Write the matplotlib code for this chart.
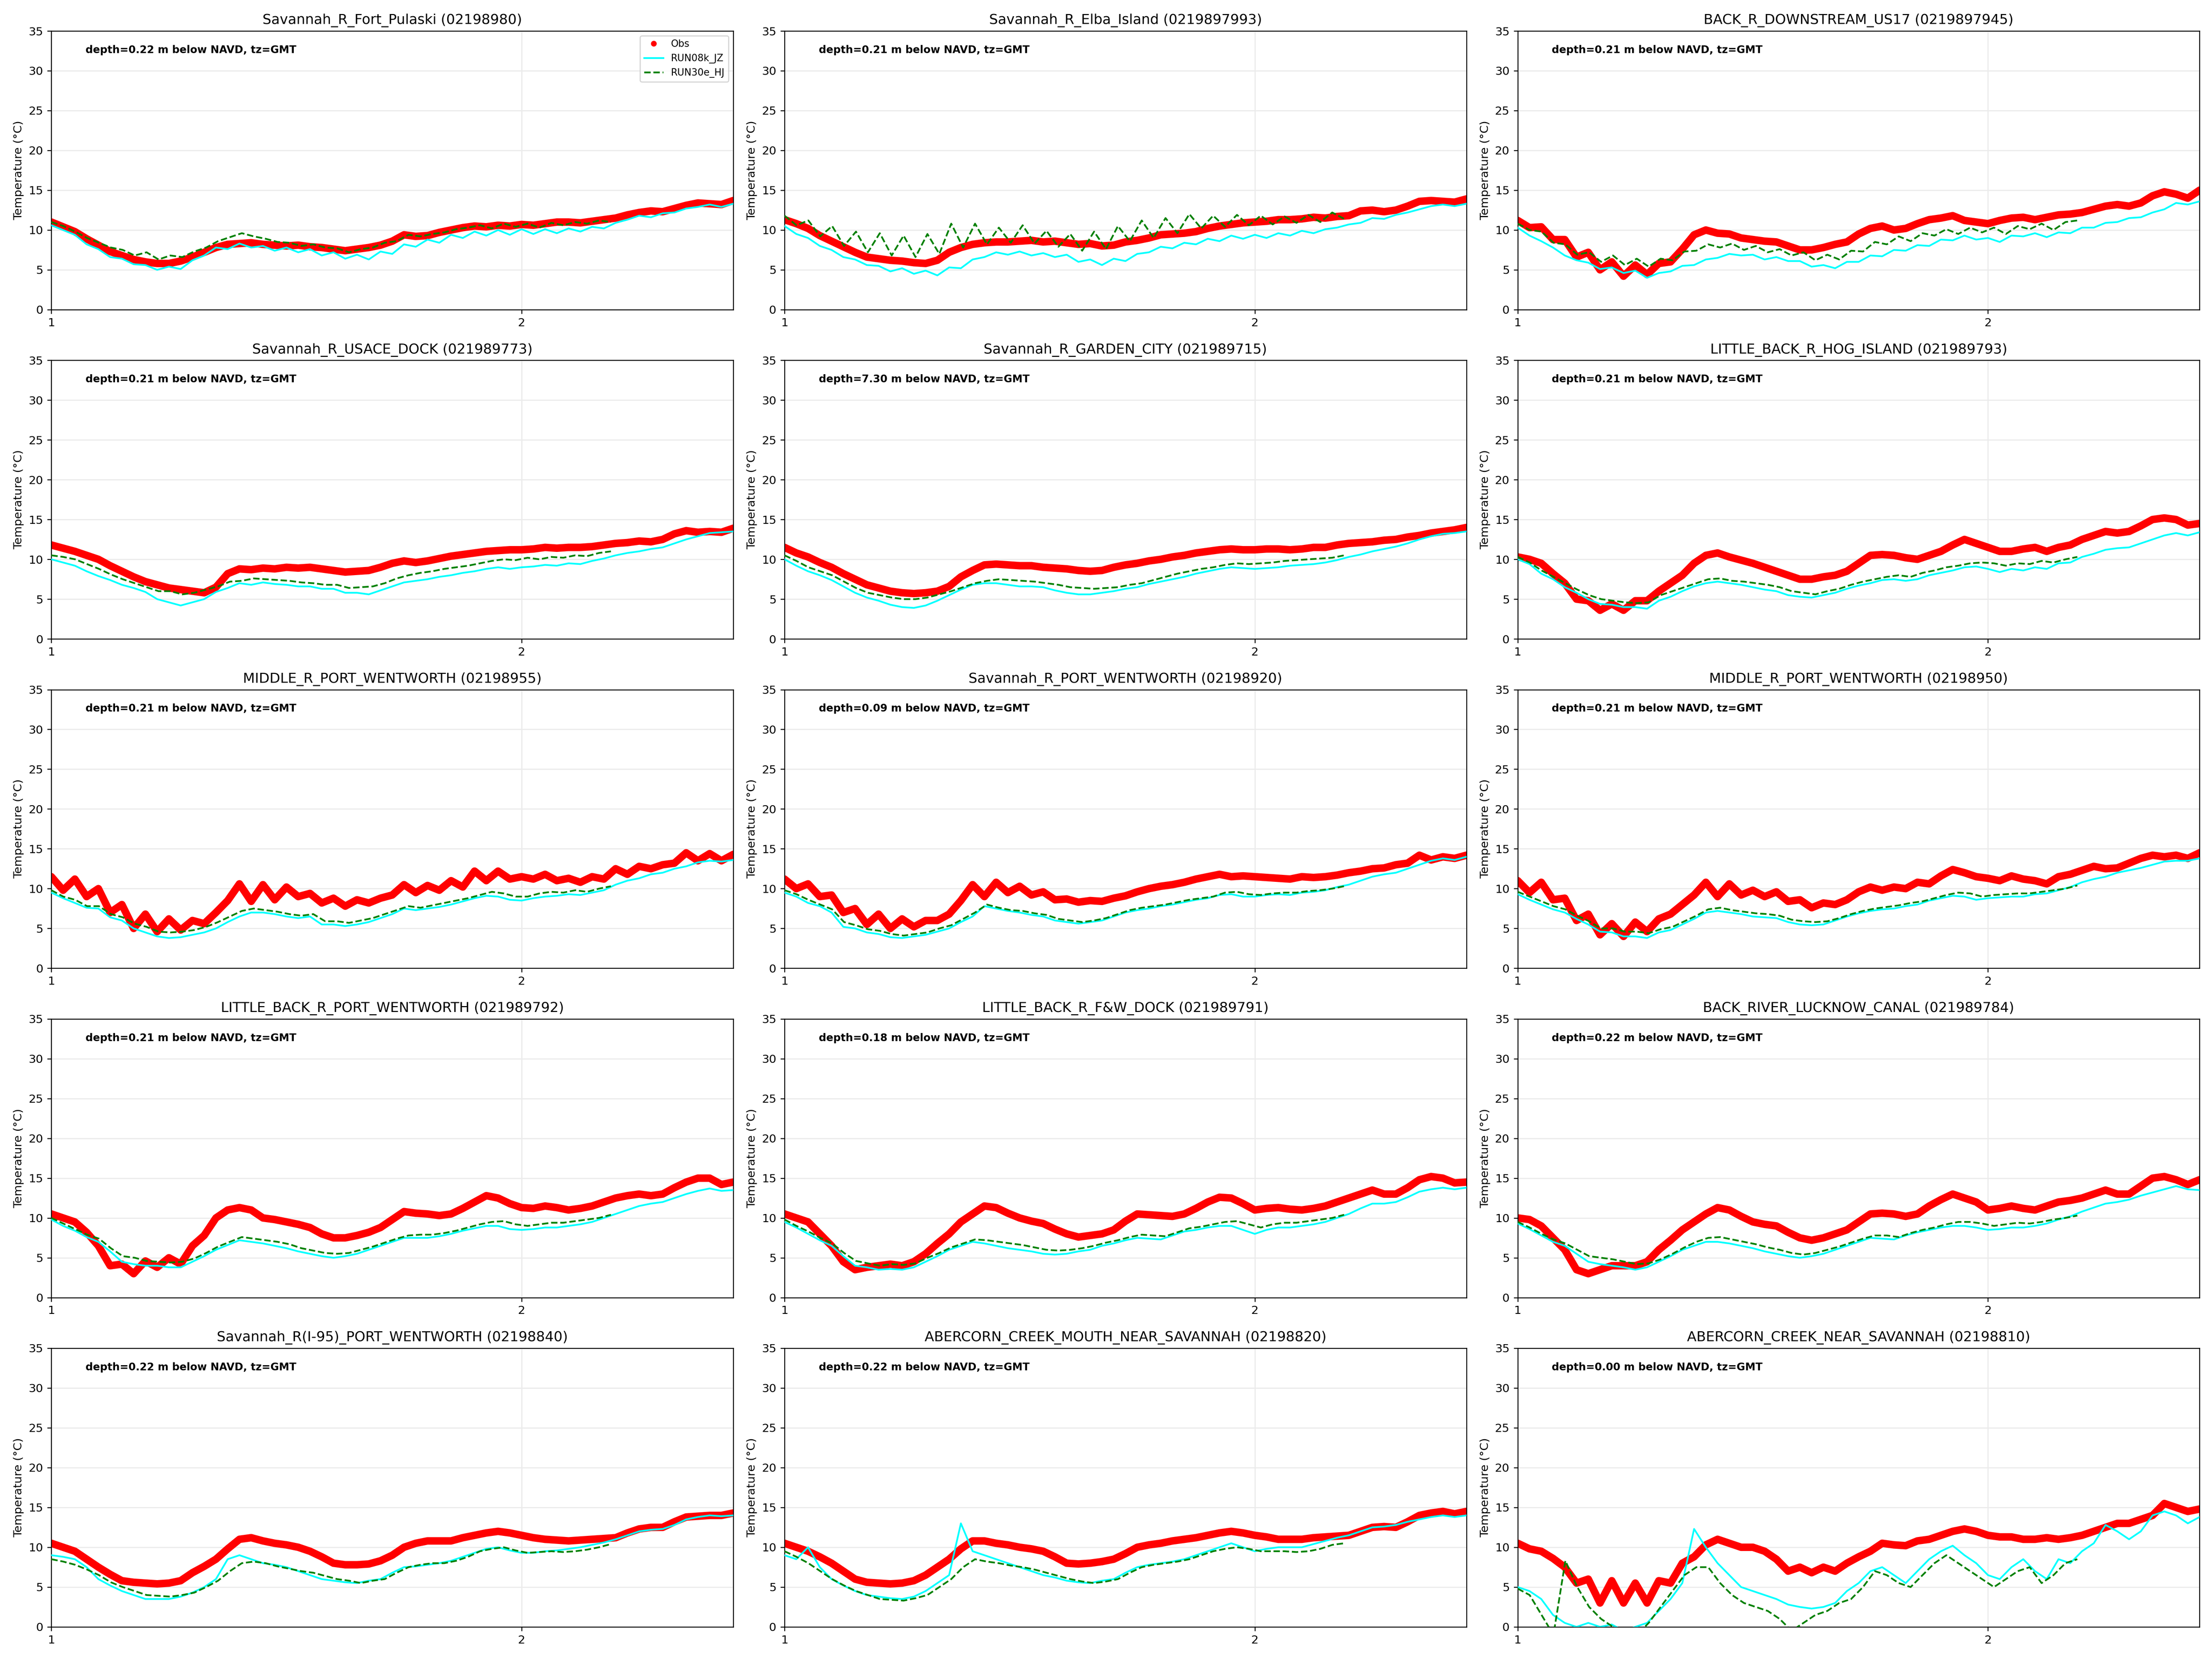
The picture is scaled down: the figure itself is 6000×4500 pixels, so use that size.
import numpy as np
import matplotlib
matplotlib.use("Agg")
import matplotlib.pyplot as plt

# station names, ids and sensor depth (m below NAVD)
stations = ["Savannah_R_Fort_Pulaski", "Savannah_R_Elba_Island", "BACK_R_DOWNSTREAM_US17",
            "Savannah_R_USACE_DOCK", "Savannah_R_GARDEN_CITY", "LITTLE_BACK_R_HOG_ISLAND",
            "MIDDLE_R_PORT_WENTWORTH", "Savannah_R_PORT_WENTWORTH", "MIDDLE_R_PORT_WENTWORTH",
            "LITTLE_BACK_R_PORT_WENTWORTH", "LITTLE_BACK_R_F&W_DOCK", "BACK_RIVER_LUCKNOW_CANAL",
            "Savannah_R(I-95)_PORT_WENTWORTH", "ABERCORN_CREEK_MOUTH_NEAR_SAVANNAH", "ABERCORN_CREEK_NEAR_SAVANNAH"]
station_ids = ["02198980", "0219897993", "0219897945",
               "021989773", "021989715", "021989793",
               "02198955", "02198920", "02198950",
               "021989792", "021989791", "021989784",
               "02198840", "02198820", "02198810"]
depths = [0.22, 0.21, 0.21, 0.21, 7.30, 0.21, 0.21, 0.09, 0.21, 0.21, 0.18, 0.22, 0.22, 0.22, 0.00]

# time axis runs 1 -> 2.45, obs and RUN08k to the end, RUN30e stops near 2.19
t_start, t_end, t_end_run30 = 1.0, 2.45, 2.19

# ---- 01 Fort Pulaski
obs_01 = [11.0, 10.4, 9.8, 8.9, 8.1, 7.3, 6.8, 6.3, 6.0, 5.8, 5.8, 6.1, 6.6, 7.2, 7.8, 8.2,
          8.3, 8.4, 8.2, 8.1, 8.0, 8.1, 7.9, 7.8, 7.6, 7.4, 7.6, 7.8, 8.1, 8.6, 9.4, 9.2,
          9.3, 9.7, 10.0, 10.3, 10.5, 10.4, 10.6, 10.5, 10.7, 10.6, 10.8, 11.0, 11.0, 10.9, 11.1, 11.3,
          11.5, 11.9, 12.2, 12.4, 12.3, 12.7, 13.1, 13.4, 13.3, 13.2, 13.7]
run08_01 = [10.6, 10.0, 9.4, 8.2, 7.6, 6.6, 6.4, 5.7, 5.6, 5.0, 5.4, 5.1, 6.2, 6.8, 7.8, 7.6,
            8.3, 7.8, 8.0, 7.4, 7.8, 7.2, 7.6, 6.8, 7.2, 6.4, 6.9, 6.3, 7.3, 7.0, 8.2, 7.9,
            8.8, 8.4, 9.4, 9.0, 9.8, 9.3, 10.0, 9.4, 10.1, 9.5, 10.1, 9.6, 10.2, 9.8, 10.4, 10.2,
            10.9, 11.3, 11.8, 11.6, 12.1, 12.2, 12.7, 12.9, 13.2, 12.9, 13.3]
run30_01 = [11.0, 10.5, 9.8, 9.0, 8.4, 7.8, 7.5, 6.8, 7.2, 6.3, 6.8, 6.6, 7.3, 7.8, 8.6, 9.1,
            9.6, 9.2, 8.9, 8.5, 8.4, 8.0, 8.2, 7.8, 7.7, 7.2, 7.6, 7.8, 8.4, 8.6, 9.4, 9.2,
            9.5, 9.7, 10.1, 10.3, 10.6, 10.2, 10.8, 10.4, 10.8, 10.3, 10.9, 10.6, 11.0, 10.8, 11.2, 11.0]

# ---- 02 Elba Island
obs_02 = [11.3, 10.8, 10.2, 9.3, 8.6, 7.9, 7.2, 6.6, 6.4, 6.2, 6.1, 5.9, 5.8, 6.2, 7.2, 7.8,
          8.2, 8.4, 8.5, 8.5, 8.6, 8.7, 8.5, 8.6, 8.4, 8.2, 8.3, 8.0, 8.1, 8.5, 8.7, 9.0,
          9.4, 9.5, 9.6, 9.8, 10.2, 10.5, 10.7, 10.9, 11.0, 11.1, 11.3, 11.3, 11.4, 11.6, 11.5, 11.7,
          11.8, 12.4, 12.5, 12.3, 12.5, 13.0, 13.6, 13.7, 13.6, 13.5, 13.9]
run08_02 = [10.5, 9.5, 9.0, 8.0, 7.5, 6.6, 6.3, 5.6, 5.5, 4.8, 5.2, 4.5, 4.9, 4.3, 5.3, 5.2,
            6.3, 6.6, 7.2, 6.9, 7.3, 6.8, 7.1, 6.6, 6.9, 6.0, 6.3, 5.6, 6.4, 6.1, 7.0, 7.2,
            7.9, 7.7, 8.4, 8.2, 8.9, 8.6, 9.3, 8.9, 9.4, 9.0, 9.6, 9.3, 9.9, 9.6, 10.1, 10.3,
            10.7, 10.9, 11.5, 11.4, 11.9, 12.2, 12.6, 13.0, 13.2, 13.0, 13.3]
run30_02 = [11.8, 10.6, 11.2, 9.2, 10.5, 8.0, 9.8, 7.2, 9.6, 6.8, 9.3, 6.6, 9.5, 7.0, 10.8, 7.8,
            10.8, 8.2, 10.3, 8.4, 10.6, 8.3, 9.9, 7.9, 9.5, 7.4, 9.8, 7.6, 10.5, 8.6, 11.2, 9.0,
            11.5, 9.6, 12.0, 10.2, 11.8, 10.4, 11.9, 10.6, 11.8, 10.7, 11.7, 10.9, 11.9, 11.0, 12.2, 11.4]

# ---- 03 Back R downstream US17
obs_03 = [11.2, 10.3, 10.4, 8.8, 8.8, 6.6, 7.2, 5.0, 6.0, 4.2, 5.6, 4.4, 5.8, 6.0, 7.6, 9.4,
          10.0, 9.6, 9.5, 9.0, 8.8, 8.6, 8.5, 8.0, 7.5, 7.5, 7.8, 8.2, 8.5, 9.5, 10.2, 10.5,
          10.0, 10.2, 10.8, 11.3, 11.5, 11.8, 11.2, 11.0, 10.8, 11.2, 11.5, 11.6, 11.3, 11.6, 11.9, 12.0,
          12.2, 12.6, 13.0, 13.2, 13.0, 13.4, 14.3, 14.8, 14.5, 14.0, 15.0]
run08_03 = [10.3, 9.3, 8.6, 7.8, 6.8, 6.2, 5.9, 5.1, 5.3, 4.6, 4.9, 4.0, 4.6, 4.8, 5.5, 5.6,
            6.3, 6.5, 7.0, 6.8, 6.9, 6.3, 6.6, 6.1, 6.1, 5.4, 5.6, 5.2, 6.0, 6.0, 6.8, 6.7,
            7.5, 7.4, 8.1, 8.0, 8.8, 8.7, 9.3, 8.8, 9.0, 8.5, 9.3, 9.2, 9.6, 9.1, 9.7, 9.6,
            10.3, 10.3, 10.9, 11.0, 11.5, 11.6, 12.2, 12.6, 13.4, 13.2, 13.6]
run30_03 = [10.8, 10.0, 9.8, 8.4, 8.2, 6.9, 7.2, 6.0, 6.8, 5.6, 6.4, 5.4, 6.4, 6.2, 7.3, 7.4,
            8.2, 7.8, 8.3, 7.5, 8.0, 7.2, 7.6, 6.8, 7.2, 6.2, 6.9, 6.3, 7.4, 7.3, 8.5, 8.2,
            9.2, 8.6, 9.6, 9.3, 10.1, 9.5, 10.3, 9.7, 10.3, 9.5, 10.5, 10.1, 10.8, 10.0, 11.0, 11.2]

# ---- 04 USACE dock
obs_04 = [11.8, 11.4, 11.0, 10.5, 10.0, 9.2, 8.5, 7.8, 7.2, 6.8, 6.4, 6.2, 6.0, 5.8, 6.5, 8.2,
          8.8, 8.7, 8.9, 8.8, 9.0, 8.9, 9.0, 8.8, 8.6, 8.4, 8.5, 8.6, 9.0, 9.5, 9.8, 9.6,
          9.8, 10.1, 10.4, 10.6, 10.8, 11.0, 11.1, 11.2, 11.2, 11.3, 11.5, 11.4, 11.5, 11.5, 11.6, 11.8,
          12.0, 12.1, 12.3, 12.2, 12.5, 13.2, 13.6, 13.4, 13.5, 13.4, 13.9]
run08_04 = [10.0, 9.6, 9.2, 8.5, 7.9, 7.4, 6.8, 6.4, 5.9, 5.0, 4.6, 4.2, 4.6, 5.0, 5.9, 6.4,
            7.0, 6.8, 7.1, 6.9, 6.8, 6.6, 6.6, 6.3, 6.3, 5.8, 5.8, 5.6, 6.1, 6.6, 7.1, 7.3,
            7.5, 7.8, 8.0, 8.3, 8.5, 8.8, 9.0, 8.8, 9.0, 9.1, 9.3, 9.2, 9.5, 9.4, 9.8, 10.1,
            10.5, 10.8, 11.0, 11.3, 11.5, 12.0, 12.5, 12.9, 13.3, 13.4, 13.5]
run30_04 = [10.5, 10.3, 10.0, 9.4, 8.8, 8.1, 7.5, 7.0, 6.5, 6.0, 6.0, 5.6, 5.8, 6.2, 6.6, 7.2,
            7.3, 7.6, 7.5, 7.4, 7.3, 7.1, 7.0, 6.8, 6.8, 6.4, 6.5, 6.6, 7.0, 7.6, 8.0, 8.3,
            8.5, 8.8, 9.0, 9.2, 9.5, 9.8, 10.0, 9.9, 10.2, 10.0, 10.3, 10.2, 10.5, 10.4, 10.8, 11.0]

# ---- 05 Garden City
obs_05 = [11.5, 10.8, 10.3, 9.6, 9.0, 8.2, 7.5, 6.8, 6.4, 6.0, 5.8, 5.7, 5.8, 6.0, 6.6, 7.8,
          8.6, 9.3, 9.4, 9.3, 9.2, 9.2, 9.0, 8.9, 8.8, 8.6, 8.5, 8.6, 9.0, 9.3, 9.5, 9.8,
          10.0, 10.3, 10.5, 10.8, 11.0, 11.2, 11.3, 11.2, 11.2, 11.3, 11.3, 11.2, 11.3, 11.5, 11.5, 11.8,
          12.0, 12.1, 12.2, 12.4, 12.5, 12.8, 13.0, 13.3, 13.5, 13.7, 14.0]
run08_05 = [10.0, 9.2, 8.5, 8.0, 7.4, 6.6, 5.8, 5.2, 4.8, 4.3, 4.0, 3.9, 4.2, 4.8, 5.5, 6.2,
            6.8, 7.0, 7.0, 6.8, 6.6, 6.6, 6.5, 6.1, 5.8, 5.6, 5.6, 5.8, 6.0, 6.3, 6.5, 6.9,
            7.2, 7.5, 7.8, 8.2, 8.5, 8.8, 9.0, 8.9, 8.8, 8.9, 9.0, 9.2, 9.3, 9.4, 9.6, 9.9,
            10.3, 10.6, 11.0, 11.3, 11.6, 12.0, 12.5, 12.9, 13.2, 13.3, 13.5]
run30_05 = [10.5, 9.8, 9.0, 8.5, 8.0, 7.2, 6.4, 5.8, 5.5, 5.2, 5.0, 5.0, 5.2, 5.6, 6.0, 6.5,
            7.0, 7.3, 7.5, 7.4, 7.3, 7.2, 7.0, 6.8, 6.5, 6.4, 6.3, 6.4, 6.5, 6.8, 7.0, 7.4,
            7.8, 8.2, 8.5, 8.8, 9.0, 9.3, 9.5, 9.4, 9.5, 9.6, 9.8, 9.9, 10.0, 10.1, 10.2, 10.5]

# ---- 06 Little Back R Hog Island
obs_06 = [10.3, 10.0, 9.5, 8.2, 7.0, 5.0, 4.8, 3.6, 4.4, 3.6, 4.8, 4.8, 6.0, 7.0, 8.0, 9.5,
          10.5, 10.8, 10.3, 9.9, 9.5, 9.0, 8.5, 8.0, 7.5, 7.5, 7.8, 8.0, 8.5, 9.5, 10.5, 10.6,
          10.5, 10.2, 10.0, 10.5, 11.0, 11.8, 12.5, 12.0, 11.5, 11.0, 11.0, 11.3, 11.5, 11.0, 11.5, 11.8,
          12.5, 13.0, 13.5, 13.3, 13.5, 14.2, 15.0, 15.2, 15.0, 14.3, 14.5]
run08_06 = [10.0, 9.4, 8.2, 7.5, 6.5, 5.8, 5.0, 4.4, 4.3, 4.0, 4.0, 3.8, 4.8, 5.3, 6.0, 6.6,
            7.0, 7.2, 7.0, 6.8, 6.5, 6.2, 6.0, 5.5, 5.3, 5.2, 5.5, 5.8, 6.3, 6.7, 7.0, 7.4,
            7.5, 7.3, 7.5, 8.0, 8.3, 8.6, 9.0, 9.1, 8.8, 8.4, 8.8, 8.6, 9.0, 8.8, 9.5, 9.6,
            10.3, 10.7, 11.2, 11.4, 11.5, 12.0, 12.5, 13.0, 13.3, 13.0, 13.4]
run30_06 = [10.3, 9.6, 8.6, 7.8, 7.0, 6.2, 5.5, 5.0, 4.8, 4.6, 4.5, 4.6, 5.5, 6.0, 6.5, 7.0,
            7.5, 7.6, 7.3, 7.2, 7.0, 6.8, 6.5, 6.0, 5.8, 5.6, 6.0, 6.3, 6.8, 7.2, 7.5, 7.8,
            8.0, 7.8, 8.3, 8.6, 9.0, 9.2, 9.5, 9.6, 9.5, 9.2, 9.5, 9.4, 9.8, 9.6, 10.0, 10.3]

# ---- 07 Middle R Port Wentworth (02198955)
obs_07 = [11.5, 9.8, 11.2, 9.0, 10.0, 7.0, 8.0, 5.0, 6.8, 4.6, 6.2, 4.8, 6.0, 5.6, 7.0, 8.5,
          10.6, 8.4, 10.5, 8.6, 10.2, 9.0, 9.4, 8.2, 8.8, 7.8, 8.6, 8.2, 8.8, 9.2, 10.5, 9.5,
          10.4, 9.8, 11.0, 10.2, 12.2, 11.0, 12.2, 11.2, 11.5, 11.2, 11.8, 11.0, 11.3, 10.8, 11.5, 11.2,
          12.5, 11.8, 12.8, 12.5, 13.0, 13.2, 14.5, 13.5, 14.4, 13.5, 14.3]
run08_07 = [9.5, 8.8, 8.2, 7.6, 7.5, 6.4, 6.0, 5.0, 4.5, 4.0, 3.8, 3.9, 4.2, 4.5, 5.0, 5.8,
            6.5, 7.0, 7.0, 6.8, 6.5, 6.3, 6.5, 5.5, 5.5, 5.3, 5.5, 5.8, 6.3, 6.8, 7.5, 7.3,
            7.5, 7.7, 8.0, 8.4, 8.8, 9.1, 9.0, 8.6, 8.5, 8.8, 9.0, 9.1, 9.3, 9.2, 9.5, 9.8,
            10.5, 11.0, 11.3, 11.8, 12.0, 12.5, 12.8, 13.3, 13.5, 13.4, 13.6]
run30_07 = [9.8, 9.0, 8.6, 7.8, 7.8, 6.8, 6.4, 5.6, 5.2, 4.6, 4.5, 4.6, 4.8, 5.2, 5.8, 6.5,
            7.2, 7.5, 7.3, 7.1, 6.8, 6.6, 6.8, 5.9, 5.9, 5.7, 6.0, 6.3, 6.8, 7.3, 7.8, 7.6,
            7.9, 8.2, 8.5, 8.8, 9.2, 9.6, 9.4, 9.0, 9.0, 9.4, 9.6, 9.5, 9.8, 9.6, 10.0, 10.3]

# ---- 08 Savannah R Port Wentworth (02198920)
obs_08 = [11.2, 10.0, 10.6, 9.0, 9.2, 7.0, 7.5, 5.5, 6.8, 5.0, 6.2, 5.2, 6.0, 6.0, 6.8, 8.5,
          10.5, 9.0, 10.8, 9.5, 10.3, 9.2, 9.6, 8.6, 8.7, 8.3, 8.5, 8.4, 8.8, 9.1, 9.6, 10.0,
          10.3, 10.5, 10.8, 11.2, 11.5, 11.8, 11.5, 11.6, 11.5, 11.4, 11.3, 11.2, 11.5, 11.4, 11.5, 11.7,
          12.0, 12.2, 12.5, 12.6, 13.0, 13.2, 14.2, 13.6, 14.0, 13.8, 14.2]
run08_08 = [9.5, 9.0, 8.2, 7.8, 7.0, 5.2, 5.0, 4.5, 4.3, 3.9, 3.8, 4.0, 4.2, 4.6, 5.0, 5.8,
            6.5, 7.8, 7.5, 7.2, 7.0, 6.7, 6.5, 6.0, 5.8, 5.6, 5.8, 6.0, 6.5, 7.0, 7.3, 7.5,
            7.8, 8.0, 8.3, 8.6, 8.8, 9.2, 9.3, 9.0, 9.0, 9.2, 9.3, 9.2, 9.5, 9.6, 9.8, 10.2,
            10.5, 11.0, 11.5, 11.8, 12.0, 12.5, 13.0, 13.5, 13.8, 13.6, 14.0]
run30_08 = [9.8, 9.3, 8.6, 8.0, 7.4, 5.8, 5.4, 4.9, 4.7, 4.3, 4.1, 4.3, 4.5, 5.0, 5.4, 6.2,
            7.0, 8.0, 7.6, 7.3, 7.2, 6.9, 6.7, 6.2, 6.0, 5.8, 6.0, 6.3, 6.8, 7.3, 7.6, 7.8,
            8.0, 8.3, 8.6, 8.8, 9.0, 9.5, 9.6, 9.3, 9.2, 9.4, 9.5, 9.5, 9.7, 9.8, 10.0, 10.3]

# ---- 09 Middle R Port Wentworth (02198950)
obs_09 = [11.0, 9.5, 10.8, 8.6, 8.8, 6.0, 6.8, 4.2, 5.6, 4.0, 5.8, 4.6, 6.2, 6.8, 8.0, 9.2,
          10.8, 9.0, 10.6, 9.2, 9.8, 9.0, 9.6, 8.4, 8.6, 7.6, 8.2, 8.0, 8.6, 9.6, 10.2, 9.8,
          10.2, 10.0, 10.8, 10.6, 11.6, 12.4, 12.0, 11.5, 11.3, 11.0, 11.6, 11.2, 11.0, 10.6, 11.5, 11.8,
          12.3, 12.8, 12.5, 12.6, 13.2, 13.8, 14.2, 14.0, 14.2, 13.8, 14.5]
run08_09 = [9.3, 8.6, 8.0, 7.4, 7.0, 6.2, 5.5, 4.6, 4.5, 4.0, 4.0, 3.8, 4.5, 4.8, 5.5, 6.2,
            7.0, 7.2, 7.0, 6.8, 6.5, 6.4, 6.3, 5.8, 5.5, 5.4, 5.5, 6.0, 6.5, 6.9, 7.2, 7.4,
            7.5, 7.8, 8.0, 8.5, 8.8, 9.1, 9.0, 8.6, 8.8, 8.9, 9.0, 9.0, 9.3, 9.4, 9.8, 10.2,
            10.8, 11.2, 11.5, 12.0, 12.3, 12.6, 13.0, 13.4, 13.5, 13.5, 13.8]
run30_09 = [9.6, 9.0, 8.4, 7.8, 7.4, 6.6, 5.9, 5.0, 5.0, 4.6, 4.6, 4.4, 4.9, 5.2, 5.9, 6.6,
            7.4, 7.6, 7.3, 7.1, 6.9, 6.8, 6.6, 6.1, 5.9, 5.8, 5.9, 6.3, 6.8, 7.2, 7.5, 7.7,
            7.9, 8.2, 8.4, 8.8, 9.2, 9.5, 9.4, 9.0, 9.2, 9.3, 9.4, 9.4, 9.6, 9.8, 10.0, 10.4]

# ---- 10 Little Back R Port Wentworth
obs_10 = [10.5, 10.0, 9.5, 8.2, 6.5, 4.0, 4.2, 3.0, 4.6, 3.8, 5.0, 4.2, 6.5, 7.8, 10.0, 11.0,
          11.3, 11.0, 10.0, 9.8, 9.5, 9.2, 8.8, 8.0, 7.5, 7.5, 7.8, 8.2, 8.8, 9.8, 10.8, 10.6,
          10.5, 10.3, 10.5, 11.2, 12.0, 12.8, 12.5, 11.8, 11.3, 11.2, 11.5, 11.3, 11.0, 11.2, 11.5, 12.0,
          12.5, 12.8, 13.0, 12.8, 13.0, 13.8, 14.5, 15.0, 15.0, 14.2, 14.5]
run08_10 = [9.8, 9.0, 8.4, 7.6, 7.0, 5.8, 4.5, 4.2, 4.0, 4.0, 3.8, 3.8, 4.5, 5.2, 6.0, 6.6,
            7.2, 7.0, 6.8, 6.5, 6.2, 5.8, 5.5, 5.2, 5.0, 5.2, 5.5, 6.0, 6.5, 7.0, 7.5, 7.5,
            7.5, 7.7, 8.0, 8.4, 8.7, 9.0, 9.0, 8.6, 8.5, 8.6, 8.8, 8.8, 9.0, 9.2, 9.5, 10.0,
            10.5, 11.0, 11.5, 11.8, 12.0, 12.5, 13.0, 13.4, 13.7, 13.4, 13.5]
run30_10 = [10.0, 9.3, 8.6, 7.9, 7.4, 6.2, 5.2, 5.0, 4.6, 4.5, 4.4, 4.5, 4.9, 5.6, 6.4, 7.0,
            7.6, 7.4, 7.2, 7.0, 6.7, 6.2, 5.9, 5.6, 5.5, 5.6, 6.0, 6.4, 6.9, 7.4, 7.8, 7.9,
            7.9, 8.1, 8.4, 8.8, 9.2, 9.5, 9.6, 9.2, 9.0, 9.2, 9.4, 9.4, 9.6, 9.8, 10.0, 10.4]

# ---- 11 Little Back R F&W dock
obs_11 = [10.5, 10.0, 9.5, 8.0, 6.5, 4.5, 3.5, 3.8, 4.0, 4.2, 4.0, 4.5, 5.5, 6.8, 8.0, 9.5,
          10.5, 11.5, 11.3, 10.6, 10.0, 9.6, 9.3, 8.6, 8.0, 7.6, 7.8, 8.0, 8.5, 9.6, 10.5, 10.4,
          10.3, 10.2, 10.5, 11.2, 12.0, 12.6, 12.5, 11.8, 11.0, 11.2, 11.3, 11.1, 11.0, 11.2, 11.5, 12.0,
          12.5, 13.0, 13.5, 13.0, 13.0, 13.8, 14.8, 15.2, 15.0, 14.4, 14.5]
run08_11 = [9.5, 8.8, 8.0, 7.2, 6.5, 5.2, 4.0, 3.8, 3.5, 3.6, 3.5, 3.8, 4.5, 5.2, 6.0, 6.5,
            7.0, 6.8, 6.5, 6.2, 6.0, 5.8, 5.5, 5.4, 5.5, 5.8, 6.0, 6.5, 6.8, 7.2, 7.5, 7.4,
            7.3, 7.8, 8.3, 8.5, 8.8, 9.0, 9.0, 8.5, 8.0, 8.5, 8.8, 8.8, 9.0, 9.2, 9.5, 10.0,
            10.5, 11.2, 11.8, 11.8, 12.0, 12.6, 13.3, 13.6, 13.8, 13.6, 13.8]
run30_11 = [9.8, 9.0, 8.3, 7.5, 6.8, 5.6, 4.6, 4.3, 4.0, 4.2, 4.1, 4.3, 5.0, 5.6, 6.3, 6.8,
            7.3, 7.2, 7.0, 6.8, 6.6, 6.3, 6.0, 5.9, 6.0, 6.2, 6.5, 6.9, 7.2, 7.6, 7.9, 7.8,
            7.7, 8.2, 8.7, 8.9, 9.2, 9.5, 9.6, 9.2, 8.8, 9.2, 9.4, 9.4, 9.6, 9.8, 10.0, 10.4]

# ---- 12 Back River Lucknow canal
obs_12 = [10.0, 9.8, 9.0, 7.5, 6.0, 3.5, 3.0, 3.5, 4.0, 4.0, 4.0, 4.5, 6.0, 7.2, 8.5, 9.5,
          10.5, 11.3, 11.0, 10.2, 9.5, 9.2, 9.0, 8.2, 7.5, 7.2, 7.5, 8.0, 8.5, 9.5, 10.5, 10.6,
          10.5, 10.2, 10.5, 11.5, 12.3, 13.0, 12.5, 12.0, 11.0, 11.2, 11.5, 11.2, 11.0, 11.5, 12.0, 12.2,
          12.5, 13.0, 13.5, 13.0, 13.0, 14.0, 15.0, 15.2, 14.8, 14.2, 14.8]
run08_12 = [9.3, 8.6, 7.8, 7.0, 6.5, 5.5, 4.5, 4.2, 4.0, 3.8, 3.5, 3.8, 4.5, 5.2, 6.0, 6.5,
            7.0, 7.0, 6.8, 6.5, 6.2, 5.8, 5.5, 5.2, 5.0, 5.2, 5.5, 6.0, 6.5, 7.0, 7.5, 7.4,
            7.3, 7.8, 8.2, 8.5, 8.8, 9.0, 9.0, 8.8, 8.5, 8.6, 8.8, 8.8, 9.0, 9.3, 9.8, 10.2,
            10.8, 11.3, 11.8, 12.0, 12.3, 12.8, 13.2, 13.6, 14.0, 13.6, 13.5]
run30_12 = [9.5, 8.8, 8.0, 7.3, 6.8, 6.0, 5.2, 5.0, 4.8, 4.5, 4.2, 4.3, 4.8, 5.5, 6.3, 7.0,
            7.5, 7.6, 7.3, 7.0, 6.7, 6.3, 6.0, 5.6, 5.4, 5.6, 6.0, 6.4, 6.9, 7.4, 7.8, 7.8,
            7.6, 8.1, 8.5, 8.8, 9.2, 9.5, 9.5, 9.3, 9.0, 9.2, 9.4, 9.3, 9.5, 9.8, 10.0, 10.3]

# ---- 13 Savannah R (I-95) Port Wentworth
obs_13 = [10.5, 10.0, 9.5, 8.5, 7.5, 6.6, 5.8, 5.6, 5.5, 5.4, 5.5, 5.8, 6.8, 7.6, 8.5, 9.8,
          11.0, 11.2, 10.8, 10.5, 10.3, 10.0, 9.5, 8.8, 8.0, 7.8, 7.8, 7.9, 8.3, 9.0, 10.0, 10.5,
          10.8, 10.8, 10.8, 11.2, 11.5, 11.8, 12.0, 11.8, 11.5, 11.2, 11.0, 10.9, 10.8, 10.9, 11.0, 11.1,
          11.2, 11.8, 12.3, 12.5, 12.5, 13.2, 13.8, 13.9, 14.0, 14.0, 14.3]
run08_13 = [9.0, 8.8, 8.5, 7.5, 6.0, 5.2, 4.5, 4.0, 3.5, 3.5, 3.5, 3.8, 4.3, 5.0, 6.0, 8.5,
            9.0, 8.5, 8.0, 7.8, 7.5, 7.0, 6.5, 6.0, 5.8, 5.6, 5.5, 5.8, 6.0, 6.8, 7.5, 7.6,
            7.8, 8.0, 8.3, 8.8, 9.3, 9.8, 10.0, 9.6, 9.3, 9.3, 9.5, 9.6, 9.8, 10.0, 10.3, 10.6,
            11.0, 11.5, 12.0, 12.2, 12.3, 12.8, 13.5, 13.8, 14.0, 13.9, 14.0]
run30_13 = [8.5, 8.2, 7.8, 7.2, 6.5, 5.6, 5.0, 4.5, 4.0, 3.9, 3.8, 4.0, 4.3, 5.0, 5.8, 7.0,
            8.0, 8.2, 8.0, 7.6, 7.3, 7.0, 6.8, 6.4, 6.0, 5.8, 5.5, 5.8, 6.0, 6.8, 7.5, 7.8,
            8.0, 8.0, 8.3, 8.8, 9.5, 9.8, 10.0, 9.6, 9.3, 9.4, 9.5, 9.4, 9.5, 9.7, 10.0, 10.4]

# ---- 14 Abercorn Creek mouth
obs_14 = [10.5, 10.0, 9.5, 8.8, 8.0, 7.0, 6.0, 5.6, 5.5, 5.4, 5.5, 5.8, 6.5, 7.5, 8.5, 9.8,
          10.8, 10.8, 10.5, 10.3, 10.0, 9.8, 9.5, 8.8, 8.0, 7.9, 8.0, 8.2, 8.5, 9.2, 10.0, 10.3,
          10.5, 10.8, 11.0, 11.2, 11.5, 11.8, 12.0, 11.8, 11.5, 11.3, 11.0, 11.0, 11.0, 11.2, 11.3, 11.4,
          11.5, 12.0, 12.5, 12.6, 12.5, 13.2, 14.0, 14.3, 14.5, 14.2, 14.5]
run08_14 = [9.0, 8.5, 10.0, 7.5, 6.0, 5.2, 4.5, 4.0, 3.8, 3.6, 3.5, 3.8, 4.5, 5.5, 6.5, 13.0,
            9.5, 9.0, 8.5, 8.0, 7.5, 7.0, 6.5, 6.2, 5.8, 5.6, 5.5, 5.8, 6.0, 6.8, 7.5, 7.8,
            8.0, 8.2, 8.5, 9.0, 9.5, 10.0, 10.5, 10.0, 9.5, 9.8, 10.0, 10.0, 10.0, 10.4, 10.8, 11.2,
            11.5, 12.0, 12.5, 12.6, 12.8, 13.2, 13.5, 13.8, 14.0, 13.8, 14.0]
run30_14 = [9.5, 8.8, 8.0, 7.0, 6.0, 5.2, 4.5, 4.0, 3.5, 3.4, 3.3, 3.6, 4.0, 5.0, 6.0, 7.5,
            8.5, 8.2, 8.0, 7.7, 7.5, 7.2, 6.8, 6.4, 6.0, 5.7, 5.5, 5.7, 6.0, 6.8, 7.5, 7.8,
            8.0, 8.2, 8.5, 9.0, 9.5, 9.8, 10.0, 9.8, 9.5, 9.5, 9.5, 9.4, 9.5, 9.8, 10.3, 10.5]

# ---- 15 Abercorn Creek near Savannah
obs_15 = [10.5, 9.8, 9.5, 8.6, 7.5, 5.5, 6.0, 3.0, 5.8, 3.0, 5.5, 3.0, 5.8, 5.5, 8.0, 8.8,
          10.3, 11.0, 10.5, 10.0, 10.0, 9.5, 8.5, 7.0, 7.5, 6.8, 7.5, 7.0, 8.0, 8.8, 9.5, 10.5,
          10.3, 10.2, 10.8, 11.0, 11.5, 12.0, 12.3, 12.0, 11.5, 11.3, 11.3, 11.0, 11.0, 11.2, 11.0, 11.2,
          11.5, 12.0, 12.5, 13.0, 13.0, 13.5, 14.0, 15.5, 15.0, 14.5, 14.8]
run08_15 = [5.0, 4.5, 3.5, 1.5, 0.5, 0.0, 0.5, 0.0, 0.3, -0.5, 0.0, 0.5, 2.0, 3.5, 5.5, 12.3,
            10.0, 8.0, 6.5, 5.0, 4.5, 4.0, 3.5, 2.8, 2.5, 2.3, 2.5, 3.0, 4.5, 5.5, 7.0, 7.5,
            6.5, 5.5, 7.0, 8.5, 9.5, 10.2, 9.0, 8.0, 6.5, 6.0, 7.5, 8.5, 7.0, 6.0, 8.5, 8.0,
            9.5, 10.5, 12.8, 12.0, 11.0, 12.0, 14.0, 14.5, 14.0, 13.0, 13.8]
run30_15 = [4.8, 4.0, 1.5, -1.0, 8.3, 5.0, 2.5, 1.0, 0.0, -1.0, -1.0, 0.5, 2.5, 4.5, 6.5, 7.5,
            7.5, 5.5, 4.0, 3.0, 2.5, 2.0, 1.0, -0.5, 0.5, 1.5, 2.0, 3.0, 3.5, 5.0, 7.0, 6.5,
            5.5, 5.0, 6.5, 8.0, 9.0, 8.0, 7.0, 6.0, 5.0, 6.0, 7.0, 7.5, 5.5, 6.5, 8.0, 8.5]

obs_all = [obs_01, obs_02, obs_03, obs_04, obs_05, obs_06, obs_07, obs_08,
           obs_09, obs_10, obs_11, obs_12, obs_13, obs_14, obs_15]
run08_all = [run08_01, run08_02, run08_03, run08_04, run08_05, run08_06, run08_07, run08_08,
             run08_09, run08_10, run08_11, run08_12, run08_13, run08_14, run08_15]
run30_all = [run30_01, run30_02, run30_03, run30_04, run30_05, run30_06, run30_07, run30_08,
             run30_09, run30_10, run30_11, run30_12, run30_13, run30_14, run30_15]

fig, axes = plt.subplots(5, 3, figsize=(26.667, 20))

for k, ax in enumerate(axes.flat):
    obs = np.array(obs_all[k])
    r08 = np.array(run08_all[k])
    r30 = np.array(run30_all[k])
    t_obs = np.linspace(t_start, t_end, len(obs))
    t_08 = np.linspace(t_start, t_end, len(r08))
    t_30 = np.linspace(t_start, t_end_run30, len(r30))

    # observations: thick red band of dots
    ax.plot(t_obs, obs, color='red', lw=6.5, solid_joinstyle='round', solid_capstyle='round', zorder=2)
    ax.plot(t_obs, obs, 'o', color='red', ms=4, label='Obs', zorder=2)
    ax.plot(t_08, r08, color='cyan', lw=1.5, label='RUN08k_JZ', zorder=3)
    ax.plot(t_30, r30, '--', color='green', lw=1.5, label='RUN30e_HJ', zorder=4)

    ax.set_xlim(1, 2.45)
    ax.set_ylim(0, 35)
    ax.set_xticks([1, 2])
    ax.set_yticks(np.arange(0, 36, 5))
    ax.grid(True, color='0.92', lw=1)
    ax.set_axisbelow(True)
    ax.set_ylabel('Temperature (°C)')
    ax.set_title('{} ({})'.format(stations[k], station_ids[k]))
    ax.text(0.05, 0.95, 'depth={:.2f} m below NAVD, tz=GMT'.format(depths[k]),
            transform=ax.transAxes, fontsize=9, fontweight='bold', va='top', ha='left')
    if k == 0:
        ax.legend(loc='upper right', fontsize='small')

fig.tight_layout()
fig.savefig('out.png', dpi=225)
